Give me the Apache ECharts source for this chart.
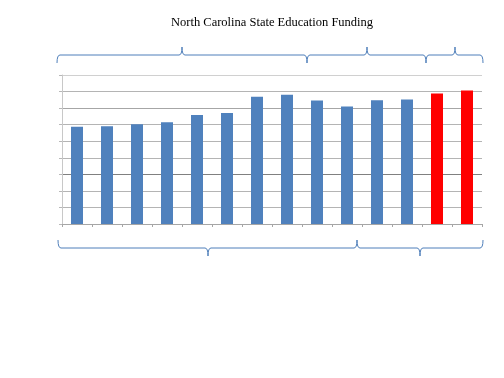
<!DOCTYPE html>
<html>
<head>
<meta charset="utf-8">
<script src="https://cdn.jsdelivr.net/npm/echarts@6/dist/echarts.min.js"></script>
<style>
  html, body { margin: 0; padding: 0; background: #fff; }
  #chart { width: 504px; height: 378px; }
</style>
</head>
<body>
<div id="chart"></div>
<script>
// no year labels are shown in the picture, so categories are just indexes
const categories = ['1', '2', '3', '4', '5', '6', '7', '8', '9', '10', '11', '12', '13', '14'];
const funding = [5.87, 5.9, 6.02, 6.14, 6.59, 6.71, 7.68, 7.8, 7.46, 7.1, 7.48, 7.52, 7.88, 8.06];
const highlighted = [12, 13];

const chart = echarts.init(document.getElementById('chart'));

const braceStyle = { stroke: '#4f7fba', lineWidth: 1, fill: null };

// curly brace made of lines and quadratic curves, dir = 1 for ends pointing down, -1 for up
function brace(x1, x2, xt, y, dir) {
    const e = 8 * dir, t = -8 * dir, r = 3;
    const seg = (a, b, c, d) => ({ type: 'line', shape: { x1: a, y1: b, x2: c, y2: d }, style: braceStyle });
    const curve = (a, b, cx, cy, c, d) => ({
        type: 'bezierCurve',
        shape: { x1: a, y1: b, cpx1: cx, cpy1: cy, x2: c, y2: d },
        style: braceStyle
    });
    return {
        type: 'group',
        children: [
            curve(x1, y + e, x1, y, x1 + r, y),
            seg(x1 + r, y, xt - r, y),
            curve(xt - r, y, xt, y, xt, y + t),
            curve(xt, y + t, xt, y, xt + r, y),
            seg(xt + r, y, x2 - r, y),
            curve(x2 - r, y, x2, y, x2, y + e)
        ]
    };
}

const option = {
    animation: false,
    title: {
        text: 'North Carolina State Education Funding',
        left: 166,
        top: 11,
        textStyle: { fontFamily: 'Liberation Serif', fontSize: 12.5, fontWeight: 'normal', color: '#000' }
    },
    grid: { left: 62, right: 22, top: 75, bottom: 154 },
    xAxis: {
        type: 'category',
        data: categories,
        axisLine: { lineStyle: { color: '#a6a6a6' } },
        axisTick: { show: true, length: 3, lineStyle: { color: '#a6a6a6' } },
        axisLabel: { show: false }
    },
    yAxis: {
        type: 'value',
        min: 0,
        max: 9,
        interval: 1,
        axisLine: { show: true, lineStyle: { color: '#c8c8c8' } },
        axisTick: { show: true, length: 3, lineStyle: { color: '#b8b8b8' } },
        axisLabel: { show: false },
        splitLine: {
            lineStyle: {
                color: ['#a6a6a6', '#b4b4b4', '#b4b4b4', '#808080', '#b4b4b4', '#b4b4b4', '#b4b4b4', '#a6a6a6', '#b4b4b4', '#d0d0d0']
            }
        }
    },
    series: [{
        type: 'bar',
        barWidth: 12,
        data: funding.map((v, i) => ({
            value: v,
            itemStyle: { color: highlighted.includes(i) ? '#ff0000' : '#4f81bd' }
        }))
    }],
    graphic: [
        brace(57, 307, 182, 55, 1),
        brace(307, 426, 367, 55, 1),
        brace(426, 483, 455, 55, 1),
        brace(58, 357, 208, 248, -1),
        brace(357, 483, 420, 248, -1)
    ]
};

chart.setOption(option);
</script>
</body>
</html>
